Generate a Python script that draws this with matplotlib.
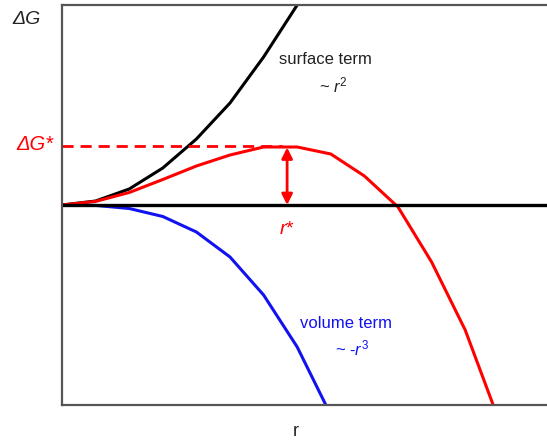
import matplotlib.pyplot as plt

plt.rcParams["font.family"] = ["Liberation Sans", "DejaVu Sans"]
plt.rcParams["mathtext.fontset"] = "custom"
plt.rcParams["mathtext.rm"] = "Liberation Sans"
plt.rcParams["mathtext.it"] = "Liberation Sans:italic"

# cluster radius (arbitrary units) and free energy terms
r = [0, 1, 2, 3, 4, 5, 6, 7, 8, 9, 10, 11, 12, 13]
surface = [0, 4, 16, 37, 66, 102, 148, 200, 262]
volume = [0, -0.4, -3.5, -11.5, -27, -52, -90, -142, -210]
total = [0, 3.6, 12.5, 25.5, 39, 50, 58, 58, 51, 29, -2, -57, -125, -215]

r_star = 6.7
dG_star = 59

fig = plt.figure(figsize=(5.47, 4.43), dpi=100)
ax = fig.add_axes([62 / 547, 38 / 443, 485 / 547, 400 / 443])

ax.plot(r[:len(surface)], surface, color="black", lw=2.2)
ax.plot(r[:len(volume)], volume, color="#1212f0", lw=2.2)
ax.plot(r, total, color="red", lw=2.2)
ax.axhline(0, color="black", lw=2.4)

ax.plot([0, r_star - 0.15], [dG_star, dG_star], color="red", lw=2, ls=(0, (4, 2.5)))
ax.annotate("", xy=(r_star, 0), xytext=(r_star, dG_star - 1.5),
            arrowprops=dict(arrowstyle="<|-|>", color="red", lw=2,
                            mutation_scale=16, shrinkA=0, shrinkB=0))

ax.set_xlim(0, 485 / 33.6)
ax.set_ylim(-200, 200)
ax.set_xticks([])
ax.set_yticks([])
ax.spines["right"].set_visible(False)
for s in ["left", "top", "bottom"]:
    ax.spines[s].set_color("#555555")
    ax.spines[s].set_linewidth(1.6)

ax.text((325 - 62) / 33.6, 145, "surface term", fontsize=12, ha="center", va="center",
        color="#222222")
ax.text((333 - 62) / 33.6, 120, r"~ $\it{r}^{2}$", fontsize=12, ha="center",
        va="center", color="#222222")
ax.text((346 - 62) / 33.6, -118, "volume term", fontsize=12, ha="center", va="center",
        color="#1212f0")
ax.text((352 - 62) / 33.6, -143, r"~ -$\it{r}^{3}$", fontsize=12, ha="center",
        va="center", color="#1212f0")
ax.text(r_star, -25, r"$\it{r}$*", fontsize=14, ha="center", va="center", color="red")

fig.text(27 / 547, 1 - 20 / 443, "ΔG", fontsize=14, style="italic", ha="center",
         va="center", color="#222222")
fig.text(35 / 547, 1 - 145 / 443, "ΔG*", fontsize=14.5, style="italic", ha="center",
         va="center", color="red")
fig.text(296 / 547, 1 - 432 / 443, "r", fontsize=13, ha="center", va="center",
         color="#222222")

fig.savefig("out.png", dpi=100)
